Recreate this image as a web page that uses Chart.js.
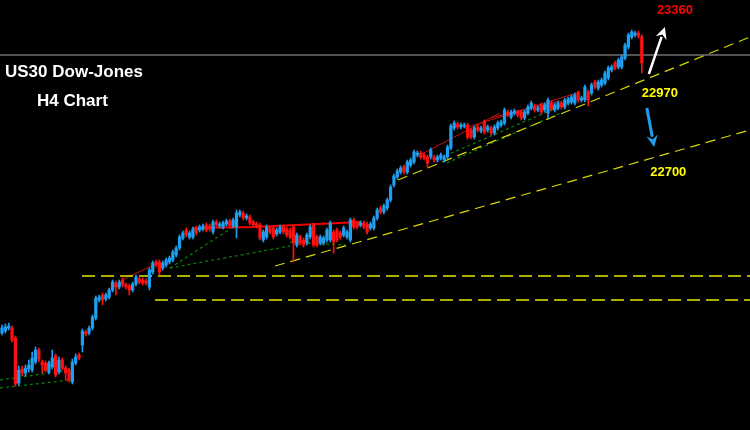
<!DOCTYPE html>
<html>
<head>
<meta charset="utf-8">
<script src="https://cdn.jsdelivr.net/npm/chart.js@4/dist/chart.umd.min.js"></script>
<style>
  html, body { margin: 0; padding: 0; background: #000; }
  #wrap { width: 750px; height: 430px; position: relative; }
</style>
</head>
<body>
<div id="wrap"><canvas id="h4_chart" width="750" height="430"></canvas></div>
<script>
// US30 H4 candles (price points)
const opens = [22734,22738,22744,22744,22724,22634,22662,22654,22662,22660,22676,22700,22676,22674,22656,22666,22688,22656,22680,22664,
  22660,22636,22674,22690,22710,22736,22734,22744,22764,22800,22810,22802,22806,22820,22834,22826,22840,22830,22828,22820,
  22832,22842,22840,22838,22826,22856,22876,22876,22864,22870,22876,22880,22890,22904,22924,22940,22926,22926,22944,22940,
  22942,22950,22948,22936,22956,22948,22946,22952,22958,22948,22946,22970,22974,22964,22966,22956,22952,22950,22920,22926,
  22944,22944,22932,22936,22946,22942,22940,22946,22910,22926,22920,22914,22926,22950,22926,22914,22914,22920,22920,22936,
  22940,22934,22930,22926,22920,22960,22954,22950,22954,22952,22944,22944,22964,22984,22976,22984,23000,23030,23046,23056,
  23066,23056,23070,23076,23090,23094,23090,23086,23086,23086,23080,23084,23080,23086,23104,23144,23152,23146,23148,23150,
  23140,23126,23146,23138,23156,23140,23144,23134,23144,23150,23154,23176,23166,23174,23176,23176,23164,23174,23184,23188,
  23180,23190,23180,23174,23194,23180,23184,23194,23186,23194,23196,23194,23214,23200,23200,23216,23214,23236,23224,23230,
  23234,23244,23260,23274,23266,23266,23284,23306,23326,23330,23334,23326];
const highs = [22750,22752,22754,22748,22728,22668,22668,22670,22680,22696,22706,22704,22680,22678,22678,22700,22692,22686,22684,22668,
  22664,22682,22692,22694,22742,22740,22748,22770,22808,22810,22814,22814,22824,22840,22838,22840,22844,22834,22832,22836,
  22850,22846,22844,22842,22864,22878,22880,22880,22878,22884,22888,22900,22908,22930,22938,22944,22938,22946,22948,22950,
  22952,22954,22952,22960,22960,22956,22958,22962,22962,22964,22980,22980,22978,22972,22970,22960,22956,22954,22940,22950,
  22948,22948,22944,22950,22950,22946,22944,22950,22934,22930,22924,22934,22950,22954,22930,22930,22928,22944,22958,22940,
  22944,22938,22948,22940,22964,22964,22958,22958,22958,22956,22956,22968,22984,22988,22992,23004,23030,23052,23062,23068,
  23070,23080,23084,23100,23098,23098,23094,23090,23104,23090,23090,23094,23090,23110,23152,23158,23156,23154,23154,23154,
  23144,23148,23150,23148,23160,23150,23148,23150,23158,23160,23184,23180,23180,23182,23180,23180,23180,23190,23198,23192,
  23188,23194,23194,23204,23198,23194,23198,23198,23204,23206,23210,23214,23218,23208,23230,23220,23234,23240,23240,23244,
  23258,23268,23270,23278,23284,23290,23314,23334,23340,23338,23338,23330];
const lows = [22730,22734,22740,22716,22628,22630,22648,22648,22656,22656,22672,22676,22654,22656,22652,22662,22646,22652,22660,22640,
  22636,22632,22670,22680,22696,22728,22730,22740,22760,22796,22790,22798,22802,22816,22810,22822,22826,22822,22810,22816,
  22828,22832,22830,22830,22820,22852,22866,22850,22860,22866,22872,22876,22886,22900,22920,22926,22922,22922,22930,22936,
  22938,22936,22938,22932,22946,22944,22942,22948,22944,22944,22924,22966,22960,22960,22950,22946,22944,22920,22916,22922,
  22932,22922,22928,22932,22932,22926,22922,22876,22906,22910,22906,22910,22922,22906,22906,22910,22910,22916,22916,22894,
  22916,22922,22926,22922,22916,22942,22942,22946,22942,22932,22940,22940,22960,22972,22972,22980,22996,23026,23042,23052,
  23052,23052,23066,23072,23086,23082,23080,23066,23082,23076,23076,23080,23076,23082,23100,23140,23142,23142,23144,23122,
  23122,23122,23136,23134,23132,23136,23130,23130,23140,23146,23150,23166,23162,23170,23166,23160,23160,23170,23180,23176,
  23176,23172,23176,23164,23178,23176,23180,23182,23182,23190,23192,23190,23196,23196,23196,23188,23210,23222,23220,23226,
  23230,23240,23256,23260,23262,23262,23280,23302,23322,23326,23324,23254];
const closes = [22744,22746,22748,22720,22632,22660,22654,22664,22670,22684,22700,22682,22670,22660,22674,22684,22650,22680,22664,22654,
  22640,22676,22686,22684,22738,22732,22744,22766,22804,22806,22800,22810,22820,22836,22826,22836,22830,22826,22820,22832,
  22846,22836,22834,22834,22860,22874,22870,22856,22874,22880,22884,22896,22904,22926,22934,22930,22934,22942,22934,22946,
  22948,22940,22942,22956,22950,22952,22954,22958,22948,22960,22974,22976,22964,22968,22954,22950,22948,22924,22936,22946,
  22936,22926,22940,22946,22936,22930,22926,22914,22930,22914,22910,22930,22946,22910,22910,22926,22924,22940,22954,22916,
  22920,22926,22944,22936,22960,22946,22946,22954,22946,22936,22952,22964,22980,22976,22988,23000,23026,23048,23058,23064,
  23056,23076,23080,23096,23094,23086,23084,23074,23100,23080,23086,23090,23086,23106,23148,23154,23146,23150,23150,23126,
  23126,23144,23140,23144,23136,23146,23134,23146,23154,23156,23180,23170,23176,23178,23170,23164,23176,23186,23194,23180,
  23184,23176,23190,23200,23182,23190,23194,23186,23200,23202,23206,23210,23200,23204,23226,23200,23230,23226,23236,23240,
  23254,23264,23266,23264,23280,23286,23310,23330,23336,23334,23328,23274];

// trendlines: [candle index, price] pairs
const grayLevel = 23290;
const flatSupports = [[23.9, 22848], [45.7, 22800]];
const yellowUpper = [[118.2, 23040], [223.3, 23326]];
const yellowLower = [[81.5, 22868], [223.3, 23140]];
const redThick = [[57.0, 22944], [75.5, 22946], [106.9, 22956]];
const redThin = [
  [[35.8, 22840], [47.2, 22876]],
  [[124.8, 23090], [148.7, 23174]],
  [[138.2, 23144], [172.5, 23216]],
  [[145.7, 23164], [166.6, 23198]]
];
const greenLines = [
  [[-0.6, 22640], [20.3, 22660]],
  [[-0.6, 22624], [20.3, 22640]],
  [[50.1, 22864], [69.5, 22948]],
  [[50.1, 22864], [86.0, 22908]],
  [[86.0, 22916], [102.4, 22910]],
  [[130.7, 23084], [171.0, 23200]],
  [[132.8, 23074], [166.6, 23174]]
];
const targets = ['23360', '22970', '22700'];

const X_MIN = -0.6, X_MAX = 223.3;
const BLUE = '#1e9ff0';
const RED = '#ff1010';

const candleColors = opens.map((o, i) => closes[i] >= o ? BLUE : RED);
const wickData = opens.map((o, i) => ({ x: i, y: [lows[i], highs[i]] }));
const bodyData = opens.map((o, i) => ({ x: i, y: [o, closes[i]] }));

function toPts(arr) { return arr.map(p => ({ x: p[0], y: p[1] })); }

function lineSet(points, color, width, dash) {
    return {
        type: 'line',
        data: toPts(points),
        borderColor: color,
        borderWidth: width,
        borderDash: dash || [],
        pointRadius: 0,
        fill: false,
        tension: 0
    };
}

const datasets = [
    {
        type: 'bar',
        data: bodyData,
        backgroundColor: candleColors,
        barThickness: 2.6,
        minBarLength: 1,
        grouped: false
    },
    {
        type: 'bar',
        data: wickData,
        backgroundColor: candleColors,
        barThickness: 1,
        grouped: false
    },
    lineSet([[X_MIN, grayLevel], [X_MAX, grayLevel]], '#a8a8a8', 1),
    lineSet([flatSupports[0], [X_MAX, flatSupports[0][1]]], '#e8e800', 1.3, [13, 6]),
    lineSet([flatSupports[1], [X_MAX, flatSupports[1][1]]], '#e8e800', 1.3, [13, 6]),
    lineSet(yellowUpper, '#d8d800', 1.2, [10, 6]),
    lineSet(yellowLower, '#d8d800', 1.2, [10, 6]),
    lineSet(redThick, '#ee0000', 2)
];
redThin.forEach(l => datasets.push(lineSet(l, '#cc1010', 1)));
greenLines.forEach(l => datasets.push(lineSet(l, '#0b7a0b', 1.3, [3, 3])));

// arrows and texts
const overlayPlugin = {
    id: 'overlay',
    afterDatasetsDraw(chart) {
        const ctx = chart.ctx;
        const xs = chart.scales.x, ys = chart.scales.y;
        const px = v => xs.getPixelForValue(v);
        const py = v => ys.getPixelForValue(v);

        function arrow(x1, y1, x2, y2, color, width, head) {
            const a = Math.atan2(y2 - y1, x2 - x1);
            ctx.save();
            ctx.strokeStyle = color;
            ctx.fillStyle = color;
            ctx.lineWidth = width;
            ctx.beginPath();
            ctx.moveTo(x1, y1);
            ctx.lineTo(x2 - Math.cos(a) * head * 0.8, y2 - Math.sin(a) * head * 0.8);
            ctx.stroke();
            ctx.beginPath();
            ctx.moveTo(x2, y2);
            ctx.lineTo(x2 - head * Math.cos(a - 0.45), y2 - head * Math.sin(a - 0.45));
            ctx.lineTo(x2 - head * 0.6 * Math.cos(a), y2 - head * 0.6 * Math.sin(a));
            ctx.lineTo(x2 - head * Math.cos(a + 0.45), y2 - head * Math.sin(a + 0.45));
            ctx.closePath();
            ctx.fill();
            ctx.restore();
        }
        arrow(px(193.1), py(23252), px(197.9), py(23346), '#ffffff', 2.5, 13);
        arrow(px(192.5), py(23184), px(194.7), py(23106), BLUE, 3, 13);

        ctx.save();
        ctx.textAlign = 'center';
        ctx.textBaseline = 'middle';
        ctx.font = 'bold 13px "Liberation Sans", Arial, sans-serif';
        ctx.fillStyle = '#ff0000';
        ctx.fillText(targets[0], px(200.9), py(23380));
        ctx.fillStyle = '#ffff00';
        ctx.fillText(targets[1], px(196.4), py(23214));
        ctx.fillText(targets[2], px(198.9), py(23056));

        ctx.textAlign = 'left';
        ctx.fillStyle = '#ffffff';
        ctx.font = 'bold 17px "Liberation Sans", Arial, sans-serif';
        ctx.fillText('US30 Dow-Jones', 5, 72);
        ctx.fillText('H4 Chart', 37, 101);
        ctx.restore();
    }
};

new Chart(document.getElementById('h4_chart'), {
    data: { datasets: datasets },
    options: {
        responsive: false,
        animation: false,
        layout: { padding: 0 },
        scales: {
            x: { type: 'linear', min: X_MIN, max: X_MAX, offset: false, display: false, grid: { offset: false } },
            y: { min: 22540, max: 23400, display: false }
        },
        plugins: {
            legend: { display: false },
            tooltip: { enabled: false }
        }
    },
    plugins: [overlayPlugin]
});
</script>
</body>
</html>
